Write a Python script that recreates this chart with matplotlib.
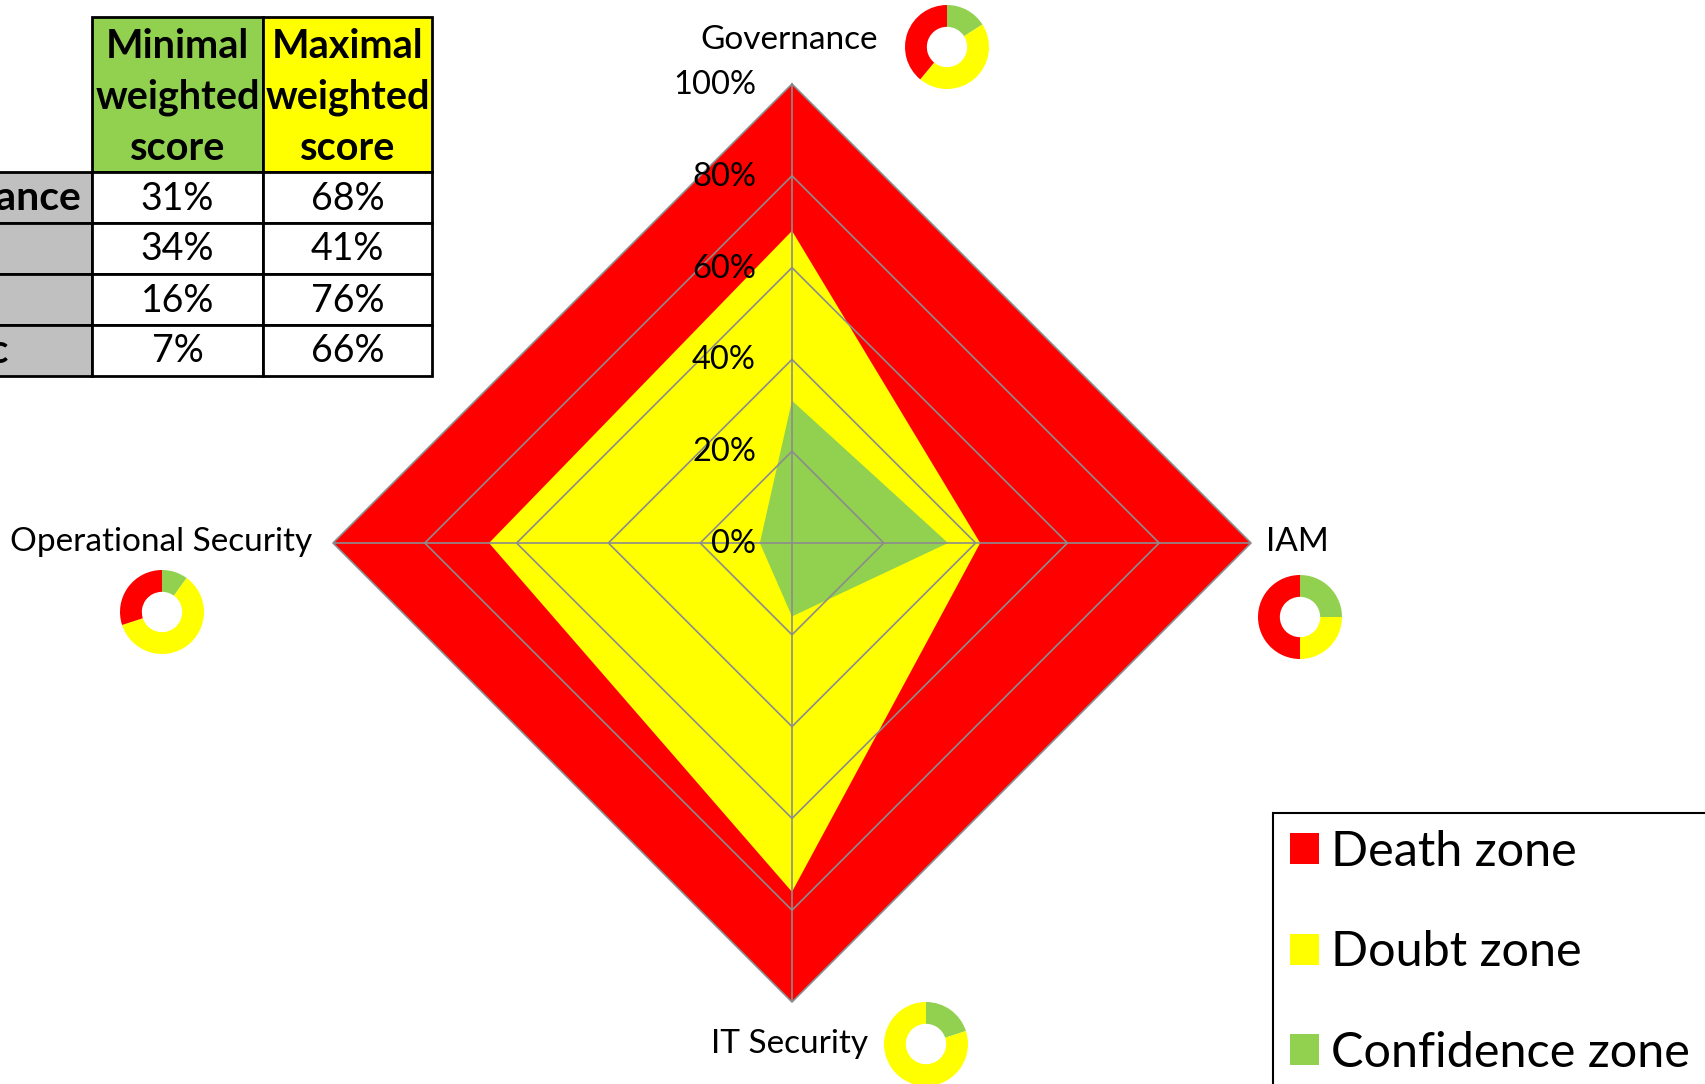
import matplotlib
matplotlib.use("Agg")
import matplotlib.pyplot as plt
import numpy as np
from matplotlib.patches import Rectangle, Patch
from matplotlib.transforms import offset_copy

plt.rcParams['font.family'] = ['Lato', 'DejaVu Sans']

# data
categories = ["Governance", "IAM", "IT Security", "Operational Security"]
death_zone = [100, 100, 100, 100]
max_score = [68, 41, 76, 66]
min_score = [31, 34, 16, 7]
ring_levels = [20, 40, 60, 80, 100]
tick_labels = ["0%", "20%", "40%", "60%", "80%", "100%"]

table_rows = ["Governance", "IAM", "IT Sec", "Ops Sec"]
table_header = ["Minimal\nweighted\nscore", "Maximal\nweighted\nscore"]
legend_labels = ["Death zone", "Doubt zone", "Confidence zone"]

# donut splits per category (confidence / doubt / death)
donut_green = [16, 25, 20, 10]
donut_yellow = [45, 25, 80, 60]
donut_red = [39, 50, 0, 30]

RED = "#FF0000"
YELLOW = "#FFFF00"
GREEN = "#92D050"
GRID = "#8C8C8C"
GRAY = "#C0C0C0"

W, H = 1706, 1084
fig = plt.figure(figsize=(W / 100, H / 100), dpi=100)

# pixel overlay for table and labels
pix = fig.add_axes([0, 0, 1, 1])
pix.set_xlim(0, W)
pix.set_ylim(H, 0)
pix.axis('off')

# radar
cx, cy, R = 792, 543, 459
ax = fig.add_axes([(cx - R) / W, (H - cy - R) / H, 2 * R / W, 2 * R / H], projection='polar')
ax.set_theta_zero_location('N')
ax.set_theta_direction(-1)
ax.set_ylim(0, 100)
ax.axis('off')

theta = np.linspace(0, 2 * np.pi, len(categories), endpoint=False)
closed = np.append(theta, theta[0])


def close(v):
    return np.append(v, v[0])


ax.fill(closed, close(death_zone), color=RED, lw=0, zorder=1)
ax.fill(closed, close(max_score), color=YELLOW, lw=0, zorder=2)
ax.fill(closed, close(min_score), color=GREEN, lw=0, zorder=3)
for lvl in ring_levels:
    ax.plot(closed, [lvl] * len(closed), color=GRID, lw=1.2, zorder=4, clip_on=False)
for t in theta:
    ax.plot([t, t], [0, 100], color=GRID, lw=1.2, zorder=4)

trans = offset_copy(ax.transData, fig=fig, x=-36, y=-1, units='dots')
for lvl, lab in zip([0] + ring_levels, tick_labels):
    ax.text(0, lvl, lab, transform=trans, ha='right', va='center', fontsize=23.5, zorder=5)

# category labels
label_pos = [(789, 40), (1297, 542), (790, 1044), (161, 542)]
for (lx, ly), name in zip(label_pos, categories):
    pix.text(lx, ly, name, ha='center', va='center', fontsize=24)

# donuts
donut_centers = [(947, 47), (1300, 617), (926, 1044), (162, 612)]
for (dx, dy), g, yv, r in zip(donut_centers, donut_green, donut_yellow, donut_red):
    dax = fig.add_axes([(dx - 42) / W, (H - dy - 42) / H, 84 / W, 84 / H])
    dax.pie([g, yv, r], colors=[GREEN, YELLOW, RED], startangle=90, counterclock=False,
            wedgeprops=dict(width=0.52, linewidth=0))
    dax.set_xlim(-1, 1)
    dax.set_ylim(-1, 1)

# table
col_x = [-250, 92, 263, 432]
row_y = [17, 172, 223, 274, 325, 376]
for j, (txt, fc) in enumerate(zip(table_header, [GREEN, YELLOW])):
    x0, x1 = col_x[j + 1], col_x[j + 2]
    pix.add_patch(Rectangle((x0, row_y[0]), x1 - x0, row_y[1] - row_y[0], facecolor=fc,
                            edgecolor='black', lw=2))
    pix.text((x0 + x1) / 2, (row_y[0] + row_y[1]) / 2 + 3, txt, ha='center', va='center',
             fontsize=28.5, fontweight='bold', linespacing=1.46)
for i, name in enumerate(table_rows):
    y0, y1 = row_y[i + 1], row_y[i + 2]
    ym = (y0 + y1) / 2
    pix.add_patch(Rectangle((col_x[0], y0), col_x[1] - col_x[0], y1 - y0, facecolor=GRAY,
                            edgecolor='black', lw=2))
    pix.text(-140, ym + 1, name, ha='left', va='center', fontsize=29.5, fontweight='bold')
    for j, v in enumerate([min_score[i], max_score[i]]):
        x0, x1 = col_x[j + 1], col_x[j + 2]
        pix.add_patch(Rectangle((x0, y0), x1 - x0, y1 - y0, facecolor='white',
                                edgecolor='black', lw=2))
        pix.text((x0 + x1) / 2, ym + 1, f"{v}%", ha='center', va='center', fontsize=27)

# legend
handles = [Patch(facecolor=c, edgecolor='none', label=l)
           for c, l in zip([RED, YELLOW, GREEN], legend_labels)]
leg = fig.legend(handles=handles, loc='upper left', bbox_to_anchor=(1273 / W, 1 - 813 / H),
                 fontsize=35, frameon=True, fancybox=False, edgecolor='black', framealpha=1,
                 handlelength=0.6, handleheight=0.6, labelspacing=1.16, borderpad=0.35,
                 handletextpad=0.25, borderaxespad=0)
leg.get_frame().set_linewidth(1.5)

fig.savefig("out.png", dpi=100)
